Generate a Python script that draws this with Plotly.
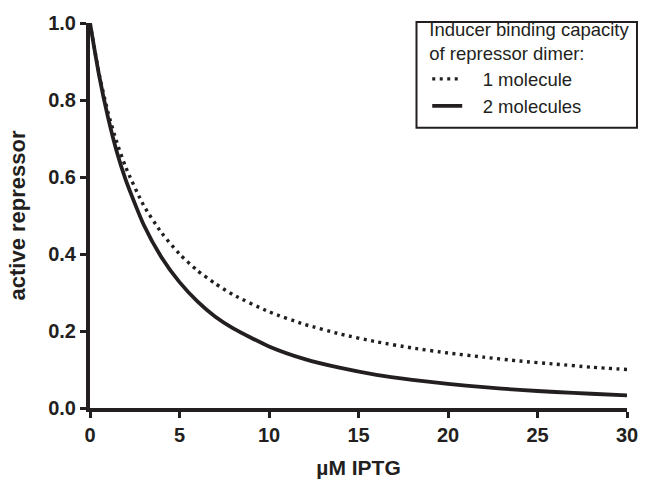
import plotly.graph_objects as go

# IPTG concentration (µM)
iptg = [0, 0.5, 1, 1.5, 2, 3, 4, 5, 6, 7, 8, 10, 12, 14, 16, 18, 20, 22, 24, 26, 28, 30]

# fraction of active repressor, one inducer molecule per dimer
one_molecule = [1.000, 0.870, 0.769, 0.690, 0.625, 0.526, 0.455, 0.400, 0.357, 0.323, 0.294,
                0.250, 0.217, 0.192, 0.172, 0.156, 0.143, 0.132, 0.122, 0.114, 0.106, 0.100]

# fraction of active repressor, two inducer molecules per dimer
two_molecules = [1.000, 0.866, 0.756, 0.665, 0.592, 0.476, 0.391, 0.327, 0.277, 0.237, 0.207,
                 0.160, 0.127, 0.104, 0.086, 0.073, 0.0625, 0.054, 0.047, 0.0415, 0.037, 0.033]

x_ticks = [0, 5, 10, 15, 20, 25, 30]
y_ticks = [0.0, 0.2, 0.4, 0.6, 0.8, 1.0]
y_tick_text = ["0.0", "0.2", "0.4", "0.6", "0.8", "1.0"]

ink = "#231f20"
font_family = "Liberation Sans, Arial, sans-serif"
gap = "\u00a0\u00a0\u00a0"  # spacing between legend sample and its label

fig = go.Figure()
fig.add_trace(go.Scatter(
    x=iptg, y=one_molecule, mode="lines", name=gap + "1 molecule",
    line=dict(color=ink, width=3.4, dash="3px,4.5px", shape="spline", smoothing=0.6),
))
fig.add_trace(go.Scatter(
    x=iptg, y=two_molecules, mode="lines", name=gap + "2 molecules",
    line=dict(color=ink, width=3.8, shape="spline", smoothing=0.6),
))

axis_common = dict(
    showline=True, linecolor=ink, linewidth=4,
    ticks="outside", ticklen=6, tickwidth=3, tickcolor=ink,
    showgrid=False, zeroline=False,
    tickfont=dict(family=font_family, size=20, color=ink, weight="bold"),
)

# frame around the legend
fig.add_shape(
    type="rect", xref="paper", yref="paper",
    x0=0.608, x1=1.0186, y0=0.728, y1=1.0025,
    line=dict(color=ink, width=2), fillcolor="white", layer="above",
)

fig.update_layout(
    width=650, height=489,
    margin=dict(l=90, r=22, t=16, b=79),
    paper_bgcolor="white", plot_bgcolor="white",
    font=dict(family=font_family, color=ink),
    xaxis=dict(
        range=[0, 30], tickvals=x_ticks,
        title=dict(text="µM IPTG", font=dict(family=font_family, size=21, color=ink, weight="bold"),
                   standoff=16),
        **axis_common,
    ),
    yaxis=dict(
        range=[0, 1.0], tickvals=y_ticks, ticktext=y_tick_text,
        title=dict(text="active repressor", font=dict(family=font_family, size=22, color=ink, weight="bold"),
                   standoff=17),
        **axis_common,
    ),
    showlegend=True,
    legend=dict(
        x=0.628, y=1.028, xanchor="left", yanchor="top",
        borderwidth=0, bgcolor="rgba(0,0,0,0)",
        font=dict(family=font_family, size=18.5, color=ink),
        title=dict(text="Inducer binding capacity<br>of repressor dimer:",
                   side="top", font=dict(family=font_family, size=18.5, color=ink)),
        itemwidth=30, tracegroupgap=0,
    ),
)

fig.write_html("out.html")
